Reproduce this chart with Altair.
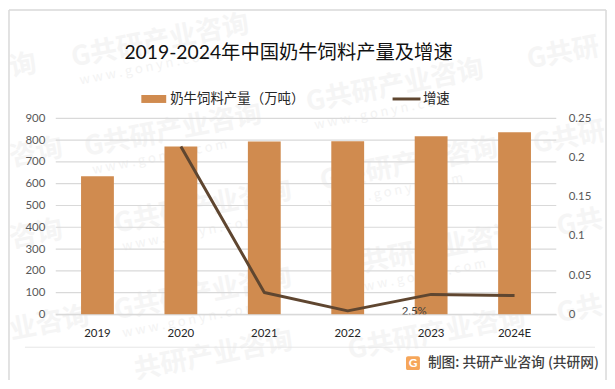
import altair as alt
import pandas as pd

years = ["2019", "2020", "2021", "2022", "2023", "2024E"]
output = [634, 771, 794, 795, 818, 836]
growth_years = ["2020", "2021", "2022", "2023", "2024E"]
growth = [0.214, 0.028, 0.0045, 0.0255, 0.024]
grid_values = [0, 100, 200, 300, 400, 500, 600, 700, 800, 900]
right_ticks = [0, 0.05, 0.1, 0.15, 0.2, 0.25]
bar_name = "奶牛饲料产量（万吨）"
line_name = "增速"
title_text = "2019-2024年中国奶牛饲料产量及增速"
note_text = "2.5%"
source_text = "制图: 共研产业咨询 (共研网)"
mark_text = "G共研产业咨询"
mark_url = "w w w . g o n y n . c o m"

FONT = "Lato, Noto Sans CJK SC"
CJK = "Noto Sans CJK SC"
LEFT, TOP = 48, 110  # plot-area offset inside the canvas

bars_df = pd.DataFrame({"year": years, "output": output, "series": bar_name})
line_df = pd.DataFrame({"year": growth_years, "growth": growth, "series": line_name})
grid_df = pd.DataFrame({"v": grid_values})
one = alt.Data(values=[{}])

x_axis = alt.Axis(labelAngle=0, labelPadding=13, labelColor="#262626", labelFontSize=11.5,
                  labelFont=FONT, ticks=False, domainColor="#D9D9D9", grid=False, zindex=1)
x_scale = alt.Scale(domain=years, paddingInner=0.6, paddingOuter=0.3, align=0.5, round=False)
x_enc = alt.X("year:N", sort=years, title=None, scale=x_scale, axis=x_axis)


def X(v):
    return alt.value(v - 8 - LEFT)


def Y(v):
    return alt.value(v - 8 - TOP)


def wm(text, x, y, url=None):
    out = [alt.Chart(one).mark_text(
        angle=349, align="left", baseline="middle", font=CJK, fontSize=27, fontWeight="bold",
        color="#F5F5F5",
    ).encode(text=alt.value(text), x=X(x), y=Y(y))]
    if url:
        out.append(alt.Chart(one).mark_text(
            angle=349, align="left", baseline="middle", font=CJK, fontSize=13, color="#F3F3F3",
        ).encode(text=alt.value(url), x=X(x + 8), y=Y(y + 22)))
    return out


marks = []
for t, wx, wy, u in [
    (mark_text, 72, 58, mark_url),
    (mark_text, 85, 148, mark_url),
    (mark_text, 115, 225, mark_url),
    (mark_text, 115, 312, mark_url),
    ("共研产业咨询", 135, 372, None),
    (mark_text, 308, 103, mark_url),
    (mark_text, 322, 182, mark_url),
    (mark_text, 345, 268, mark_url),
    (mark_text, 350, 352, None),
    ("询", 10, 68, None),
    ("咨询", 10, 158, None),
    ("咨询", 10, 240, None),
    ("业咨询", 10, 332, None),
    ("G共研", 530, 60, None),
    ("G共研", 536, 145, None),
    ("G共", 560, 228, None),
    ("G共", 560, 315, None),
]:
    marks += wm(t, wx, wy, u)


def edge(x1, x2, y1, y2=None):
    enc = {"x": X(x1), "x2": X(x2), "y": Y(y1)}
    if y2 is not None:
        enc["y2"] = Y(y2)
    return alt.Chart(one).mark_rule(color="#D9D9D9", strokeWidth=1.5).encode(**enc)


frame = [
    edge(9, 609, 9),
    edge(9, 609, 383),
    edge(9, 9, 9, 383),
    edge(609, 609, 9, 383),
]
footer_rule = alt.Chart(one).mark_rule(color="#E6E6E6", strokeWidth=1).encode(
    x=X(25), x2=X(598), y=Y(348),
)
title = alt.Chart(one).mark_text(
    align="left", baseline="middle", font=FONT, fontSize=19.4, color="#111111",
).encode(text=alt.value(title_text), x=X(125), y=Y(52))
logo = alt.Chart(one).mark_rect(fill="#F6A65A", cornerRadius=2).encode(
    x=X(408), x2=X(422), y=Y(357), y2=Y(371),
)
logo_g = alt.Chart(one).mark_text(
    align="center", baseline="middle", font=FONT, fontSize=12, fontWeight="bold", color="#FFFFFF",
).encode(text=alt.value("G"), x=X(415), y=Y(364))
source = alt.Chart(one).mark_text(
    align="left", baseline="middle", font=CJK, fontSize=13.8, fontWeight=500, color="#404040",
).encode(text=alt.value(source_text), x=X(430), y=Y(364))

left_axis = alt.Axis(values=grid_values, labelColor="#595959", labelFontSize=11.5,
                     labelFont=FONT, labelPadding=11, ticks=False, domain=False,
                     grid=False, orient="left", labelOverlap=False, zindex=1)
right_axis = alt.Axis(values=right_ticks, labelColor="#595959",
                      labelFontSize=11.5, labelFont=FONT, labelPadding=12, ticks=False,
                      domain=False, grid=False, orient="right", labelOverlap=False, zindex=1,
                      labelExpr="format(datum.value, '.4~g')")
left_scale = alt.Scale(domain=[0, 900])
right_scale = alt.Scale(domain=[0, 0.25])

grid = alt.Chart(grid_df).mark_rule(color="#D9D9D9", strokeWidth=1.2).encode(
    y=alt.Y("v:Q", title=None, scale=left_scale, axis=left_axis),
)
bars = alt.Chart(bars_df).mark_bar(size=33).encode(
    x=x_enc,
    y=alt.Y("output:Q", title=None, scale=left_scale, axis=left_axis),
    color=alt.Color("series:N", scale=alt.Scale(domain=[bar_name], range=["#D08B4F"]),
                    legend=alt.Legend(orient="none", legendX=141 - 8 - LEFT, legendY=85 - 8 - TOP,
                                      title=None, symbolType="M-1,-0.32H1V0.32H-1Z", symbolSize=625,
                                      symbolOpacity=1, labelFont=CJK, labelFontSize=13.5,
                                      labelColor="#262626", labelOffset=3)),
)
line = alt.Chart(line_df).mark_line(strokeWidth=3, strokeJoin="round").encode(
    x=alt.X("year:N", sort=years, title=None, scale=x_scale, axis=x_axis),
    y=alt.Y("growth:Q", title=None, scale=right_scale, axis=right_axis),
    color=alt.Color("series:N", scale=alt.Scale(domain=[line_name], range=["#5F4630"]),
                    legend=alt.Legend(orient="none", legendX=393 - 8 - LEFT, legendY=83 - 8 - TOP,
                                      title=None, symbolType="stroke", symbolSize=784,
                                      symbolStrokeWidth=3, labelFont=CJK, labelFontSize=13.5,
                                      labelColor="#262626", labelOffset=1)),
)
note = alt.Chart(line_df[line_df.year == "2023"]).mark_text(
    font=FONT, fontSize=11.5, color="#404040", dx=-17, dy=18,
).encode(
    x=alt.X("year:N", sort=years, title=None, scale=x_scale, axis=x_axis),
    y=alt.Y("growth:Q", title=None, scale=right_scale, axis=right_axis),
    text=alt.value(note_text),
)

left_part = alt.layer(grid, bars)
right_part = alt.layer(line, note)
data_layer = alt.layer(left_part, right_part).resolve_scale(y="independent", color="independent")

chart = alt.layer(*marks, *frame, footer_rule, title, logo, logo_g, source, data_layer).resolve_scale(
    y="independent", color="independent"
).properties(
    width=503, height=197, background="#FFFFFF",
    padding={"left": LEFT, "top": TOP, "right": 51, "bottom": 65},
    autosize=alt.AutoSizeParams(type="none", contains="content"),
).configure_view(stroke=None)

chart.save("out.html", embed_options={"renderer": "svg", "actions": False})
